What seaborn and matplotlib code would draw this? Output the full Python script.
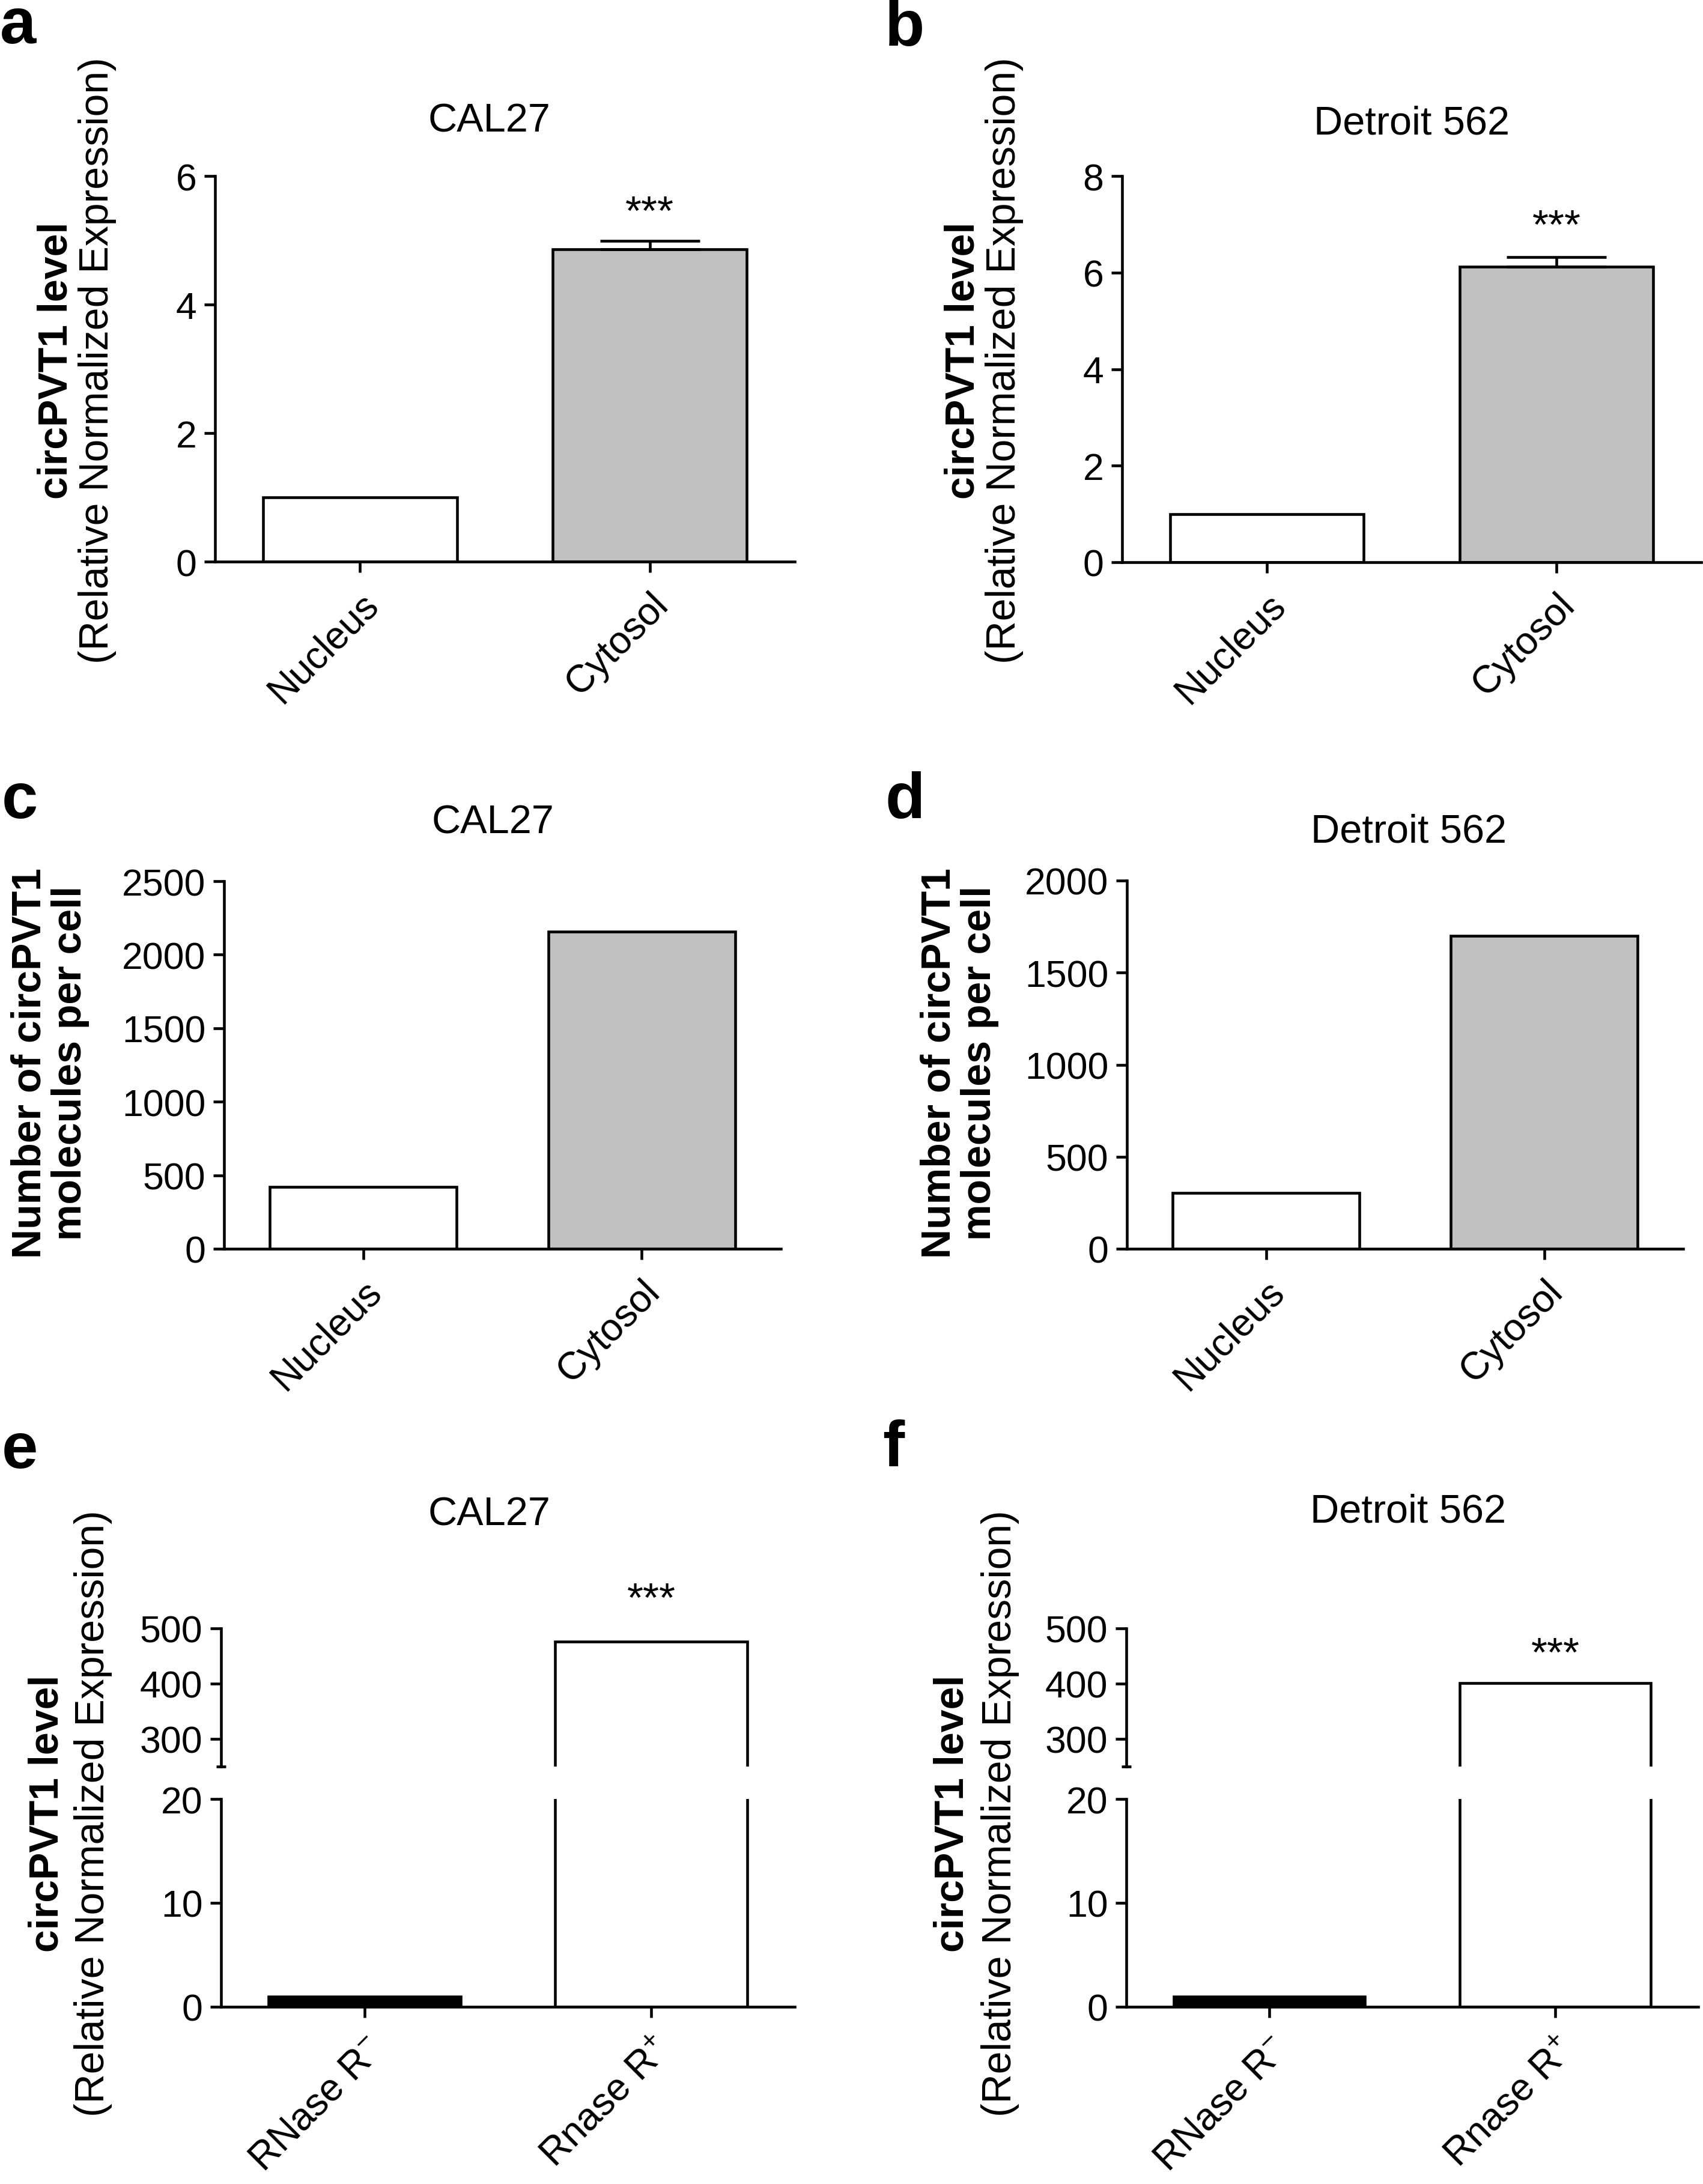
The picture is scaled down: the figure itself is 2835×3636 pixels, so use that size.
import seaborn as sns
import matplotlib.pyplot as plt

# values
fraction_cats = ['Nucleus', 'Cytosol']
rnase_cats = [r'RNase R$^{\mathregular{-}}$', r'Rnase R$^{\mathregular{+}}$']

cal27_rel = [1.0, 4.86]
cal27_rel_err = [0.0, 0.13]
detroit_rel = [1.0, 6.12]
detroit_rel_err = [0.0, 0.20]

cal27_copies = [422, 2155]
detroit_copies = [305, 1700]

cal27_rnase = [1.0, 476]
detroit_rnase = [1.0, 401]

fraction_colors = ['white', '#c0c0c0']
rnase_colors = ['black', 'white']

sns.set_style('ticks')
plt.rcParams['font.family'] = ['Liberation Sans', 'DejaVu Sans']
plt.rcParams['mathtext.default'] = 'regular'
for k in ['text.color', 'axes.labelcolor', 'axes.edgecolor', 'xtick.color', 'ytick.color']:
    plt.rcParams[k] = 'black'

W, H = 2835, 3637
fig = plt.figure(figsize=(W / 100, H / 100), dpi=100)


def px_rect(l, t, r, b):
    return [l / W, 1 - b / H, (r - l) / W, (b - t) / H]


LW = 3.3


def draw_bars(ax, cats, vals, colors):
    sns.barplot(x=cats, y=vals, hue=cats, palette=colors, width=0.67,
                edgecolor='black', linewidth=LW, saturation=1,
                errorbar=None, legend=False, ax=ax)


def style(ax, ylim, yticks, xlabels=True):
    ax.set_xlim(-0.5, 1.5)
    ax.set_ylim(*ylim)
    ax.set_yticks(yticks)
    ax.set_xlabel('')
    ax.set_ylabel('')
    for s in ['top', 'right']:
        ax.spines[s].set_visible(False)
    for s in ['left', 'bottom']:
        ax.spines[s].set_linewidth(LW)
        ax.spines[s].set_color('black')
    ax.tick_params(width=LW, length=13, labelsize=45, pad=9, color='black',
                   labelcolor='black')
    if xlabels:
        ax.tick_params(axis='x', labelsize=46, pad=16)
        plt.setp(ax.get_xticklabels(), rotation=45, ha='right',
                 rotation_mode='anchor')


def stars(ax, x, top, off):
    ax.annotate('***', xy=(x, top), xytext=(0, off), textcoords='offset points',
                ha='center', va='center', fontsize=50, annotation_clip=False)


def ylabel(x_base, y_c, text, bold=False):
    fig.text(x_base / W, 1 - y_c / H, text, rotation=90, rotation_mode='anchor',
             ha='center', va='baseline', fontsize=49,
             fontweight='bold' if bold else 'normal')


def title(x_c, y_base, text):
    fig.text(x_c / W, 1 - y_base / H, text, ha='center', va='baseline', fontsize=48)


def letter(x, y_base, text):
    fig.text(x / W, 1 - y_base / H, text, ha='left', va='baseline',
             fontsize=78, fontweight='bold')


# a / b : relative expression, nucleus vs cytosol
for rect, vals, errs, ylim, yticks, off in [
        (px_rect(358, 294, 1323, 936), cal27_rel, cal27_rel_err, (0, 6), [0, 2, 4, 6], 33),
        (px_rect(1868, 294, 2832, 937), detroit_rel, detroit_rel_err, (0, 8), [0, 2, 4, 6, 8], 36)]:
    ax = fig.add_axes(rect)
    draw_bars(ax, fraction_cats, vals, fraction_colors)
    for i, (v, e) in enumerate(zip(vals, errs)):
        if e > 0:
            ax.errorbar([i], [v], yerr=[[0], [e]], fmt='none', ecolor='black',
                        elinewidth=LW, capsize=60, capthick=LW, zorder=5)
            stars(ax, i, v + e, off)
    style(ax, ylim, yticks)

# c / d : copies per cell
for rect, vals, ylim, yticks in [
        (px_rect(373, 1468, 1300, 2080), cal27_copies, (0, 2500), [0, 500, 1000, 1500, 2000, 2500]),
        (px_rect(1876, 1467, 2802, 2080), detroit_copies, (0, 2000), [0, 500, 1000, 1500, 2000])]:
    ax = fig.add_axes(rect)
    draw_bars(ax, fraction_cats, vals, fraction_colors)
    style(ax, ylim, yticks)

# e / f : RNase R treatment with broken y axis
for (l, r), vals, off in [((368, 1323), cal27_rnase, 50), ((1875, 2827), detroit_rnase, 34)]:
    ax_top = fig.add_axes(px_rect(l, 2712, r, 2942))
    ax_bot = fig.add_axes(px_rect(l, 2996, r, 3342))
    draw_bars(ax_top, rnase_cats, vals, rnase_colors)
    draw_bars(ax_bot, rnase_cats, vals, rnase_colors)
    style(ax_top, (250, 500), [300, 400, 500], xlabels=False)
    ax_top.spines['bottom'].set_visible(False)
    ax_top.tick_params(axis='x', bottom=False, labelbottom=False)
    ax_top.set_yticks([250], minor=True)
    ax_top.tick_params(axis='y', which='minor', direction='inout', length=12, width=LW)
    style(ax_bot, (0, 20), [0, 10, 20])
    stars(ax_top, 1, vals[1], off)

# panel letters, titles, axis labels
letter(0, 72, 'a')
letter(1473, 76, 'b')
letter(3, 1362, 'c')
letter(1473, 1362, 'd')
letter(3, 2444, 'e')
letter(1469, 2441, 'f')

title(815, 220, 'CAL27')
title(2350, 224, 'Detroit 562')
title(821, 1388, 'CAL27')
title(2345, 1403, 'Detroit 562')
title(815, 2539, 'CAL27')
title(2344, 2535, 'Detroit 562')

for xb, xr, yc in [(112, 180, 600), (1622, 1690, 600), (97, 173, 3019), (1603, 1683, 3019)]:
    ylabel(xb, yc, 'circPVT1 level', bold=True)
    ylabel(xr, yc, '(Relative Normalized Expression)')

for x1, x2 in [(68, 135), (1582, 1649)]:
    ylabel(x1, 1770, 'Number of circPVT1', bold=True)
    ylabel(x2, 1770, 'molecules per cell', bold=True)

fig.savefig('out.png', dpi=100, facecolor='white')
